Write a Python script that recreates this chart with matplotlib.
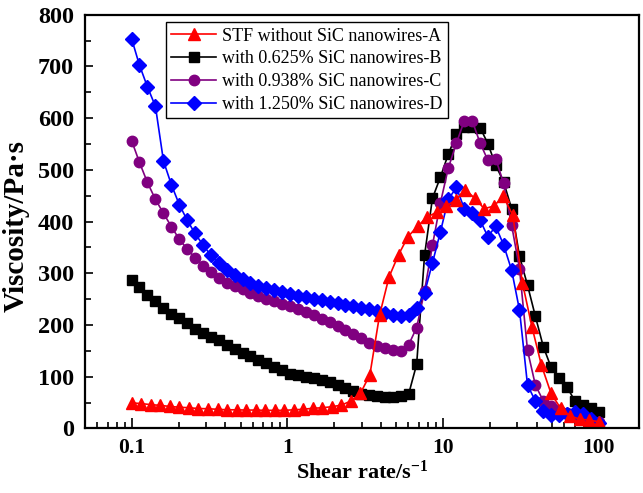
import numpy as np
import matplotlib
matplotlib.use("Agg")
import matplotlib.pyplot as plt

font = {'font.family': 'Liberation Serif',
        'font.weight': 'bold',
        'axes.labelsize': 16,
        'axes.labelweight': 'bold',
        'xtick.labelsize': 15.5,
        'ytick.labelsize': 17.5,
        'legend.fontsize': 13,
        'mathtext.fontset': 'custom',
        'mathtext.rm': 'Liberation Serif:bold',
        'mathtext.bf': 'Liberation Serif:bold',
        'mathtext.default': 'bf',
        }
plt.rcParams.update(font)

# shear rate grids (1/s)
shear_a = [0.1, 0.115, 0.133, 0.153, 0.176, 0.202, 0.233, 0.268, 0.309, 0.356,
           0.410, 0.472, 0.543, 0.625, 0.720, 0.829, 0.954, 1.10, 1.26, 1.46,
           1.68, 1.93, 2.22, 2.56, 2.95, 3.39, 3.91, 4.50, 5.18, 5.96,
           6.87, 7.91, 9.10, 10.5, 12.1, 13.9, 16.0, 18.4, 21.2, 24.4,
           28.1, 32.4, 37.3, 42.9, 49.4, 56.9, 65.5, 75.4, 86.9, 100]
shear_bcd = [0.1, 0.112, 0.126, 0.142, 0.160, 0.180, 0.202, 0.227, 0.255, 0.287,
             0.322, 0.363, 0.408, 0.458, 0.515, 0.579, 0.651, 0.732, 0.823, 0.925,
             1.04, 1.17, 1.31, 1.48, 1.66, 1.87, 2.10, 2.36, 2.65, 2.98,
             3.35, 3.77, 4.24, 4.76, 5.36, 6.02, 6.77, 7.61, 8.55, 9.62,
             10.8, 12.2, 13.7, 15.4, 17.3, 19.4, 21.8, 24.5, 27.6, 31.0,
             34.9, 39.2, 44.1, 49.5, 55.7, 62.6, 70.4, 79.1, 88.9, 100]

# viscosity (Pa.s)
visc_a = [49.5, 48, 46, 44.5, 42.5, 41, 40, 38.5, 38, 37,
          36, 36, 35.5, 35.5, 35, 35, 35, 36, 37, 39,
          40, 42, 45, 53, 68, 104, 219, 293, 336, 371,
          391, 409, 418, 430, 442, 462, 445, 425, 430, 449,
          412, 281, 196, 122, 68, 39, 24, 18, 16, 13]
visc_b = [288, 274, 258, 246, 233, 222, 213, 203, 193, 185,
          177, 171, 162, 153, 146, 140, 133, 126, 119, 113,
          106, 103, 100, 97, 93, 89, 84, 78, 72, 67,
          64, 62, 61, 61, 62, 67, 124, 335, 445, 486,
          530, 569, 583, 583, 582, 551, 509, 477, 425, 333,
          277, 217, 158, 118, 97, 80, 53, 45, 39, 32]
visc_c = [556, 515, 476, 443, 416, 390, 366, 347, 330, 315,
          302, 291, 282, 275, 269, 262, 257, 251, 246, 241,
          236, 231, 225, 219, 212, 205, 198, 190, 183, 175,
          165, 159, 155, 151, 150, 162, 195, 266, 354, 436,
          503, 552, 595, 595, 552, 519, 522, 474, 393, 309,
          151, 84, 53, 43, 36, 30, 26, 22, 17, 12]
visc_d = [753, 703, 661, 623, 517, 471, 433, 403, 377, 355,
          335, 319, 306, 297, 289, 282, 276, 271, 267, 263,
          260, 257, 254, 251, 248, 245, 242, 239, 236, 233,
          230, 227, 223, 220, 218, 219, 232, 262, 320, 380,
          443, 466, 425, 416, 403, 371, 391, 355, 306, 229,
          84, 53, 33, 26, 26, 28, 32, 27, 19, 10]

labels = ['STF without SiC nanowires-A', 'with 0.625% SiC nanowires-B',
          'with 0.938% SiC nanowires-C', 'with 1.250% SiC nanowires-D']

fig = plt.figure(figsize=(6.43, 4.93), dpi=100)
ax = fig.add_axes([0.132, 0.131, 0.862, 0.839])

lb, = ax.plot(shear_bcd, visc_b, '-s', color='black', ms=6.5, lw=1.2, label=labels[1])
lc, = ax.plot(shear_bcd, visc_c, '-o', color='#800080', ms=7.5, lw=1.2, label=labels[2])
ld, = ax.plot(shear_bcd, visc_d, '-D', color='blue', ms=7, lw=1.2, label=labels[3])
la, = ax.plot(shear_a, visc_a, '-^', color='red', ms=8, lw=1.2, label=labels[0])

ax.set_xscale('log')
ax.set_xlim(0.05, 182)
ax.set_ylim(0, 800)
ax.set_xticks([0.1, 1, 10, 100])
ax.set_xticklabels(['0.1', '1', '10', '100'])
ax.set_yticks(np.arange(0, 801, 100))
ax.set_yticks(np.arange(50, 800, 100), minor=True)
ax.tick_params(which='both', direction='in', top=False, right=False, width=1.2)
ax.tick_params(axis='x', which='major', length=7, pad=7)
ax.tick_params(axis='y', which='major', length=6, pad=8)
ax.tick_params(which='minor', length=4.5)
for s in ax.spines.values():
    s.set_linewidth(1.6)

ax.set_xlabel(r'Shear rate/s$^{-1}$', labelpad=2)
ax.set_ylabel('Viscosity/Pa\u00b7s', fontsize=21)
ax.yaxis.set_label_coords(-0.1, 0.49)

leg = ax.legend(handles=[la, lb, lc, ld], loc='upper left',
                bbox_to_anchor=(0.146, 0.982), borderaxespad=0,
                fancybox=False, edgecolor='black', framealpha=1,
                handlelength=2.5, handletextpad=0.3, labelspacing=0.32,
                borderpad=0.3, prop={'weight': 'normal', 'size': 13})
leg.get_frame().set_linewidth(1.0)

fig.savefig('out.png', dpi=100)
